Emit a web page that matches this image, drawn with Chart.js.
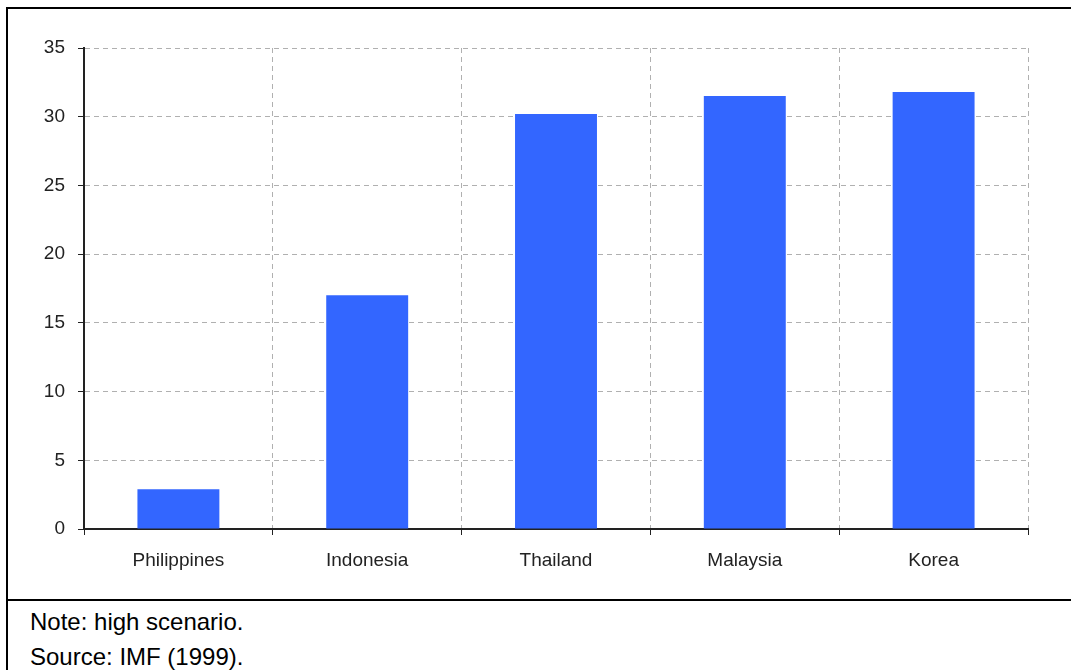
<!DOCTYPE html>
<html>
<head>
<meta charset="utf-8">
<script src="https://cdn.jsdelivr.net/npm/chart.js@4/dist/chart.umd.min.js"></script>
<style>
  html, body { margin: 0; padding: 0; background: #fff; }
  body { width: 1071px; height: 670px; position: relative; overflow: hidden; font-family: "Liberation Sans", Arial, sans-serif; }
  #frame { position: absolute; left: 6px; top: 7px; width: 1080px; height: 680px; border-left: 2px solid #000; border-top: 2px solid #000; }
  #divider { position: absolute; left: 6px; top: 599px; width: 1080px; height: 2px; background: #000; }
  #wrap { position: absolute; left: 0; top: 0; width: 1071px; height: 599px; }
  .note { position: absolute; left: 30px; font-size: 24px; line-height: 28px; color: #000; }
</style>
</head>
<body>
<div id="frame"></div>
<div id="wrap"><canvas id="costChart" width="1071" height="599"></canvas></div>
<div id="divider"></div>
<div class="note" style="top: 608px;">Note: high scenario.</div>
<div class="note" style="top: 643px;">Source: IMF (1999).</div>
<script>
const countries = ["Philippines", "Indonesia", "Thailand", "Malaysia", "Korea"];
const values = [2.9, 17.0, 30.2, 31.5, 31.8];
const yTicks = [0, 5, 10, 15, 20, 25, 30, 35];

const ctx = document.getElementById("costChart").getContext("2d");

new Chart(ctx, {
  type: "bar",
  data: {
    labels: countries,
    datasets: [{
      data: values,
      backgroundColor: "#3366ff",
      borderWidth: 0,
      categoryPercentage: 1,
      barPercentage: 0.434
    }]
  },
  options: {
    responsive: false,
    animation: false,
    devicePixelRatio: 1,
    layout: { padding: { left: 0, top: 48, right: 43, bottom: 0 } },
    plugins: { legend: { display: false }, tooltip: { enabled: false } },
    scales: {
      x: {
        grid: {
          color: "#b0b0b0",
          tickColor: "#222",
          tickLength: 6,
          offset: true
        },
        border: { color: "#222", width: 2, dash: [5, 4] },
        ticks: {
          color: "#222",
          padding: 14,
          maxRotation: 0,
          autoSkip: false,
          font: { family: "Liberation Sans, Arial", size: 19 }
        },
        afterFit: scale => { scale.height = 70; }
      },
      y: {
        min: 0,
        max: 35,
        afterBuildTicks: scale => { scale.ticks = yTicks.map(v => ({ value: v })); },
        grid: {
          color: "#b0b0b0",
          tickColor: "#222",
          tickLength: 6
        },
        border: { color: "#222", width: 2, dash: [5, 4] },
        ticks: {
          color: "#222",
          padding: 13,
          font: { family: "Liberation Sans, Arial", size: 19 }
        },
        afterFit: scale => { scale.width = 84; }
      }
    }
  }
});
</script>
</body>
</html>
